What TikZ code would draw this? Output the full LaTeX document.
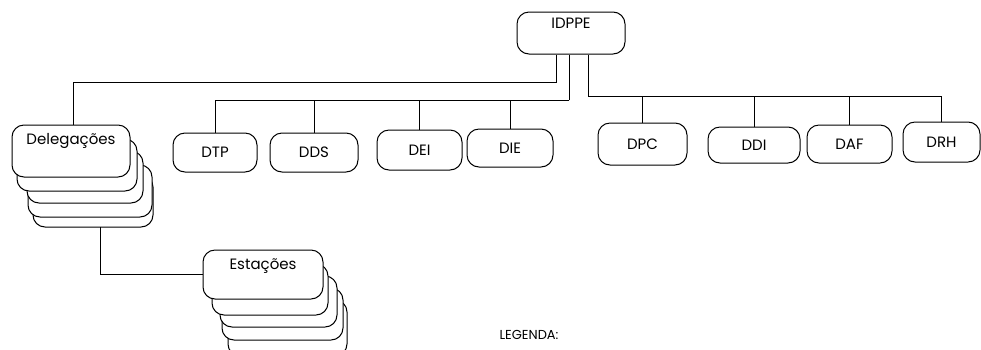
\documentclass[tikz,border=0pt]{standalone}
\usepackage{fontspec}
\setmainfont{Poppins}
\begin{document}
\begin{tikzpicture}[x=1pt,y=-1pt,
  ln/.style={line width=1pt,black},
  box/.style={draw,line width=1pt,rounded corners=12pt,fill=white,inner sep=0pt,font=\fontsize{15}{17}\selectfont},
  back/.style={draw,line width=1pt,rounded corners=12pt,fill=white}
]
\useasboundingbox (0,0) rectangle (981,349);

% top node
\node[box,minimum width=108pt,minimum height=42pt,text height=11pt,text depth=20pt] (idppe) at (571,33) {IDPPE};

% Delegacoes stack (back to front)
\draw[back] (33,175) rectangle (153,227);
\draw[back] (28,165) rectangle (152,217);
\draw[back] (27,151) rectangle (143,203);
\draw[back] (17,139) rectangle (137,191);
\node[box,minimum width=118pt,minimum height=52pt,text height=11pt,text depth=24pt] (del) at (71,151) {Delegações};

% Estacoes stack (back to front)
\draw[back] (228,300) rectangle (347,356);
\draw[back] (222,288) rectangle (343,340);
\draw[back] (220,276) rectangle (337,327);
\draw[back] (212,264) rectangle (328,315);
\node[box,minimum width=120pt,minimum height=49pt,text height=11pt,text depth=22pt] (est) at (263,274.5) {Estações};

% departments
\node[box,minimum width=84pt,minimum height=39pt] (dtp) at (215,152.5) {DTP};
\node[box,minimum width=88pt,minimum height=39pt] (dds) at (314,152.5) {DDS};
\node[box,minimum width=85pt,minimum height=40pt] (dei) at (419.5,150) {DEI};
\node[box,minimum width=86pt,minimum height=38pt] (die) at (510,148) {DIE};
\node[box,minimum width=89pt,minimum height=42pt] (dpc) at (642.5,144) {DPC};
\node[box,minimum width=92pt,minimum height=36pt] (ddi) at (754,145) {DDI};
\node[box,minimum width=85pt,minimum height=38pt] (daf) at (849.5,144) {DAF};
\node[box,minimum width=77pt,minimum height=40pt] (drh) at (941.5,142) {DRH};

% junction coordinates
\coordinate (ja) at (556,82);
\coordinate (jb) at (569,100);
\coordinate (jc) at (588,96);
\coordinate (dbot) at (100,227);

% connectors
\draw[ln] ([xshift=-15pt]idppe.south) -- (ja) -| ([xshift=2pt]del.north);
\draw[ln] ([xshift=-2pt]idppe.south) -- (jb);
\draw[ln] ([xshift=17pt]idppe.south) -- (jc);
\foreach \n in {dtp,dds,dei,die} \draw[ln] (jb) -| (\n.north);
\foreach \n in {dpc,ddi,daf,drh} \draw[ln] (jc) -| (\n.north);
\draw[ln] (dbot) |- (est.west);

% legend
\node[font=\fontsize{13}{15}\selectfont] (leg) at (529,335) {LEGENDA:};
\end{tikzpicture}
\end{document}
